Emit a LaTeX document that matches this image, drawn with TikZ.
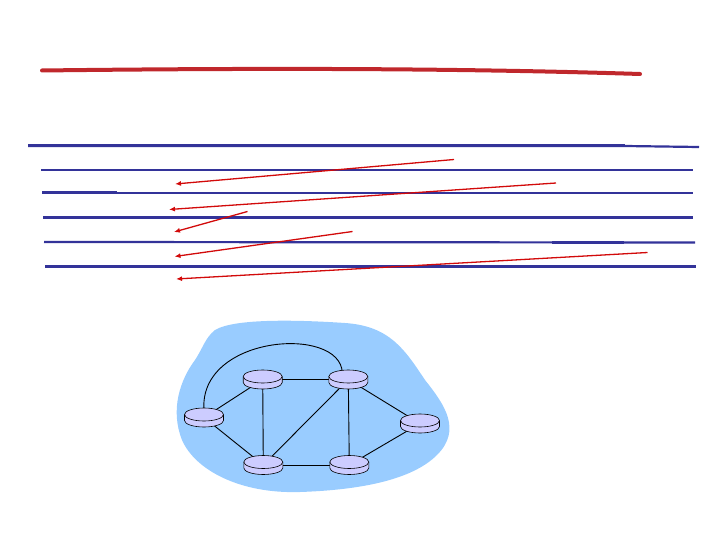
\documentclass[tikz,border=0pt]{standalone}
\usetikzlibrary{calc}
\usetikzlibrary{arrows.meta}

\definecolor{penred}{RGB}{192,40,44}
\definecolor{arrred}{RGB}{210,10,10}
\definecolor{penblue}{RGB}{51,51,153}
\definecolor{cloudblue}{RGB}{153,204,255}
\definecolor{routerfill}{RGB}{204,204,255}

\tikzset{
    router/.style={minimum width=39pt, minimum height=19pt, inner sep=0pt},
    routerbody/.style={fill=routerfill, draw=black, line width=0.6pt},
    link/.style={black, line width=0.9pt},
    rule/.style={penblue, line width=2.2pt},
    boldrule/.style={penblue, line width=3pt},
    note/.style={arrred, line width=1.3pt, -{Latex[length=6pt,width=5pt]}}
}

\begin{document}
\begin{tikzpicture}[x=1pt, y=-1pt]
    \useasboundingbox (0,0) rectangle (720,540);

    \draw[penred, line width=4pt, line cap=round] (42,70.5) .. controls (250,68) and (450,68) .. (640,74);

    \draw[rule] (28,146) -- (625,146) -- (699,147);
    \draw[boldrule] (28,146) -- (625,146);
    \draw[rule] (41,170) -- (693,170);
    \draw[rule] (42,193) -- (693,193);
    \draw[boldrule] (42,192.5) -- (117,192.5);
    \draw[rule] (43,217.5) -- (693,217.5);
    \draw[boldrule] (551,218) -- (622,218);
    \draw[rule] (44,242) -- (695,242.5);
    \draw[boldrule] (552,242.5) -- (624,242.5);
    \draw[rule] (45,266.5) -- (696,266.5);

    \coordinate (a1) at (454,159.5);
    \coordinate (b1) at (175,184);
    \coordinate (a2) at (556,183);
    \coordinate (b2) at (169,209.5);
    \coordinate (a3) at (247.5,211.5);
    \coordinate (b3) at (174,232);
    \coordinate (a4) at (352.5,231.5);
    \coordinate (b4) at (174.5,256.5);
    \coordinate (a5) at (647.5,252.5);
    \coordinate (b5) at (176,279);
    \foreach \i in {1,...,5}
        \draw[note] (a\i) -- (b\i);

    \fill[cloudblue] (215,330) .. controls (235,318) and (300,320) .. (345,323)
        .. controls (390,326) and (405,350) .. (425,380)
        .. controls (445,405) and (462,430) .. (437,455)
        .. controls (412,480) and (360,490) .. (300,492)
        .. controls (240,494) and (195,470) .. (182,440)
        .. controls (170,410) and (180,380) .. (195,360)
        .. controls (203,348) and (205,338) .. (215,330) -- cycle;

    \node[router] (r1) at (262.7,379.5) {};
    \node[router] (r2) at (348.3,379.5) {};
    \node[router] (r3) at (204,417.5) {};
    \node[router] (r4) at (420,423.5) {};
    \node[router] (r5) at (263.3,465) {};
    \node[router] (r6) at (349.3,465) {};

    \draw[link] (r1.center) -- (r2.center);
    \draw[link] (r1.center) -- (r3.center);
    \draw[link] (r1.center) -- (r5.center);
    \draw[link] (r2.center) -- (r5.center);
    \draw[link] (r2.center) -- (r6.center);
    \draw[link] (r2.center) -- (r4.center);
    \draw[link] (r3.center) -- (r5.center);
    \draw[link] (r5.center) -- (r6.center);
    \draw[link] (r6.center) -- (r4.center);
    \draw[link] ($(r3)+(0,-7)$) .. controls (198,335) and (340,325) .. ($(r2)+(-6,-7)$);

    \foreach \r in {r1,r2,r3,r4,r5,r6} {
        \begin{scope}[shift={(\r)}]
            \filldraw[routerbody] (-19.5,-3) -- (-19.5,3) arc[start angle=180, end angle=0, x radius=19.5, y radius=6.5] -- (19.5,-3);
            \filldraw[routerbody] (0,-3) ellipse[x radius=19.5, y radius=6.5];
        \end{scope}
    }

\end{tikzpicture}
\end{document}
